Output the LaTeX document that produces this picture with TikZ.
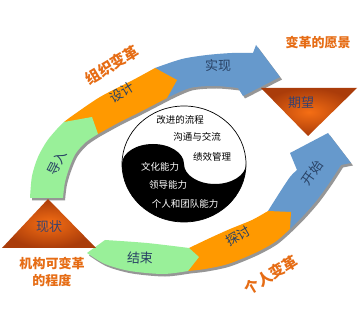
\documentclass[tikz,border=0pt]{standalone}
\usepackage{fontspec}
\setmainfont{Noto Sans CJK SC}
\definecolor{cgreen}{RGB}{153,240,153}
\definecolor{corange}{RGB}{255,153,0}
\definecolor{cblue}{RGB}{102,153,204}
\definecolor{ctext}{RGB}{40,65,100}
\definecolor{chead}{RGB}{230,108,20}
\definecolor{tridark}{RGB}{170,60,10}
\definecolor{trilight}{RGB}{245,110,20}
\definecolor{shadowc}{RGB}{150,150,150}
\definecolor{tritext}{RGB}{55,65,110}
\begin{document}
\begin{tikzpicture}[x=1pt,y=-1pt,
  bandtext/.style={text=ctext,font=\fontsize{13}{13}\selectfont,inner sep=0pt},
  headtext/.style={text=chead,font=\bfseries\fontsize{13}{17}\selectfont,align=center,inner sep=0pt},
  bighead/.style={text=chead,font=\bfseries\fontsize{15}{15}\selectfont,inner sep=0pt},
  tritextst/.style={text=tritext,font=\fontsize{13}{13}\selectfont,inner sep=0pt},
  yydark/.style={text=black,font=\fontsize{9.5}{9.5}\selectfont,inner sep=0pt},
  yylight/.style={text=white,font=\fontsize{9.5}{9.5}\selectfont,inner sep=0pt}]
\fill[white] (0,0) rectangle (358,328);
\useasboundingbox (0,0) rectangle (358,328);
% band paths
\def\pGreenT{plot[smooth] coordinates {(30,198) (32,176) (38,157) (47,141) (57,129) (64,122)} -- (92,117) -- plot[smooth] coordinates {(98,134) (86,142) (76,153) (70,166) (65,182) (63,198)} -- cycle}
\def\pOrangeT{plot[smooth] coordinates {(64,122) (72,116) (100,97) (133,80) (155,68)} -- (177,80) -- plot[smooth] coordinates {(167,98) (140,112) (118,123) (98,134)} -- cycle}
\def\pBlueT{plot[smooth] coordinates {(155,68) (182,59) (207,55) (232,53) (253,53)} -- (256,45) -- (280,77) -- (243,96) -- plot[smooth] coordinates {(238,88) (215,86) (190,88) (167,98)} -- cycle}
\def\pGreenB{plot[smooth] coordinates {(105,240) (147,243) (189,248)} -- (199,257) -- plot[smooth] coordinates {(188,271) (163,274) (130,271) (105,264) (87,253)} -- cycle}
\def\pOrangeB{plot[smooth] coordinates {(189,248) (210,238) (230,229) (252,220) (268,211)} -- (291,212) -- plot[smooth] coordinates {(290,229) (275,242) (255,253) (228,264) (205,269) (188,271)} -- cycle}
\def\pBlueB{plot[smooth] coordinates {(268,211) (280,192) (290,177) (297,170)} -- (290,153) -- (328,133) -- (351,163) -- plot[smooth] coordinates {(341,165) (330,182) (317,200) (303,216) (290,229)} -- cycle}
% shadows
\begin{scope}[shift={(2,2.5)}]
  \fill[shadowc] \pBlueT;
  \fill[shadowc] \pOrangeT;
  \fill[shadowc] \pGreenT;
  \fill[shadowc] \pBlueB;
  \fill[shadowc] \pOrangeB;
  \fill[shadowc] \pGreenB;
\end{scope}
% bands
\fill[cblue] \pBlueT;
\fill[corange] \pOrangeT;
\fill[cgreen] \pGreenT;
\fill[cblue] \pBlueB;
\fill[corange] \pOrangeB;
\fill[cgreen] \pGreenB;
% triangles
\shade[inner color=trilight, outer color=tridark] (48,199) -- (96,248) -- (2,248) -- cycle;
\shade[inner color=trilight, outer color=tridark] (261,88) -- (357,88) -- (308,136) -- cycle;
% yin-yang
\fill[white] (184,164) ellipse[x radius=62, y radius=58];
\fill[black] (122,164) arc[start angle=180, end angle=0, x radius=62, y radius=58]
  arc[start angle=0, end angle=180, x radius=31, y radius=20]
  arc[start angle=0, end angle=-180, x radius=31, y radius=20] -- cycle;
\draw[black, line width=0.7pt] (184,164) ellipse[x radius=62, y radius=58];
% texts in yin-yang
\node[yydark] (t1) at (180,120) {改进的流程};
\node[yydark] (t2) at (197,137) {沟通与交流};
\node[yydark] (t3) at (212,157) {绩效管理};
\node[yylight] (t4) at (160,167) {文化能力};
\node[yylight] (t5) at (168,185) {领导能力};
\node[yylight] (t6) at (185,204) {个人和团队能力};
% band labels
\node[bandtext, rotate=63] (daoru) at (57,163) {导入};
\node[bandtext, rotate=32] (sheji) at (122,92) {设计};
\node[bandtext] (shixian) at (218,66) {实现};
\node[bandtext, rotate=-3] (jieshu) at (140,258) {结束};
\node[bandtext, rotate=30] (tantao) at (238,236) {探讨};
\node[bandtext, rotate=55] (kaishi) at (312,173) {开始};
% triangle labels
\node[tritextst] (xianzhuang) at (49,227) {现状};
\node[tritextst] (qiwang) at (301,103) {期望};
% headings
\node[bighead, rotate=31] (zuzhi) at (112,65) {组织变革};
\node[headtext] (yuanjing) at (318,43) {变革的愿景};
\node[headtext] (jigou) at (52,272) {机构可变革\\的程度};
\node[bighead, rotate=31] (geren) at (271,275) {个人变革};
\end{tikzpicture}
\end{document}
